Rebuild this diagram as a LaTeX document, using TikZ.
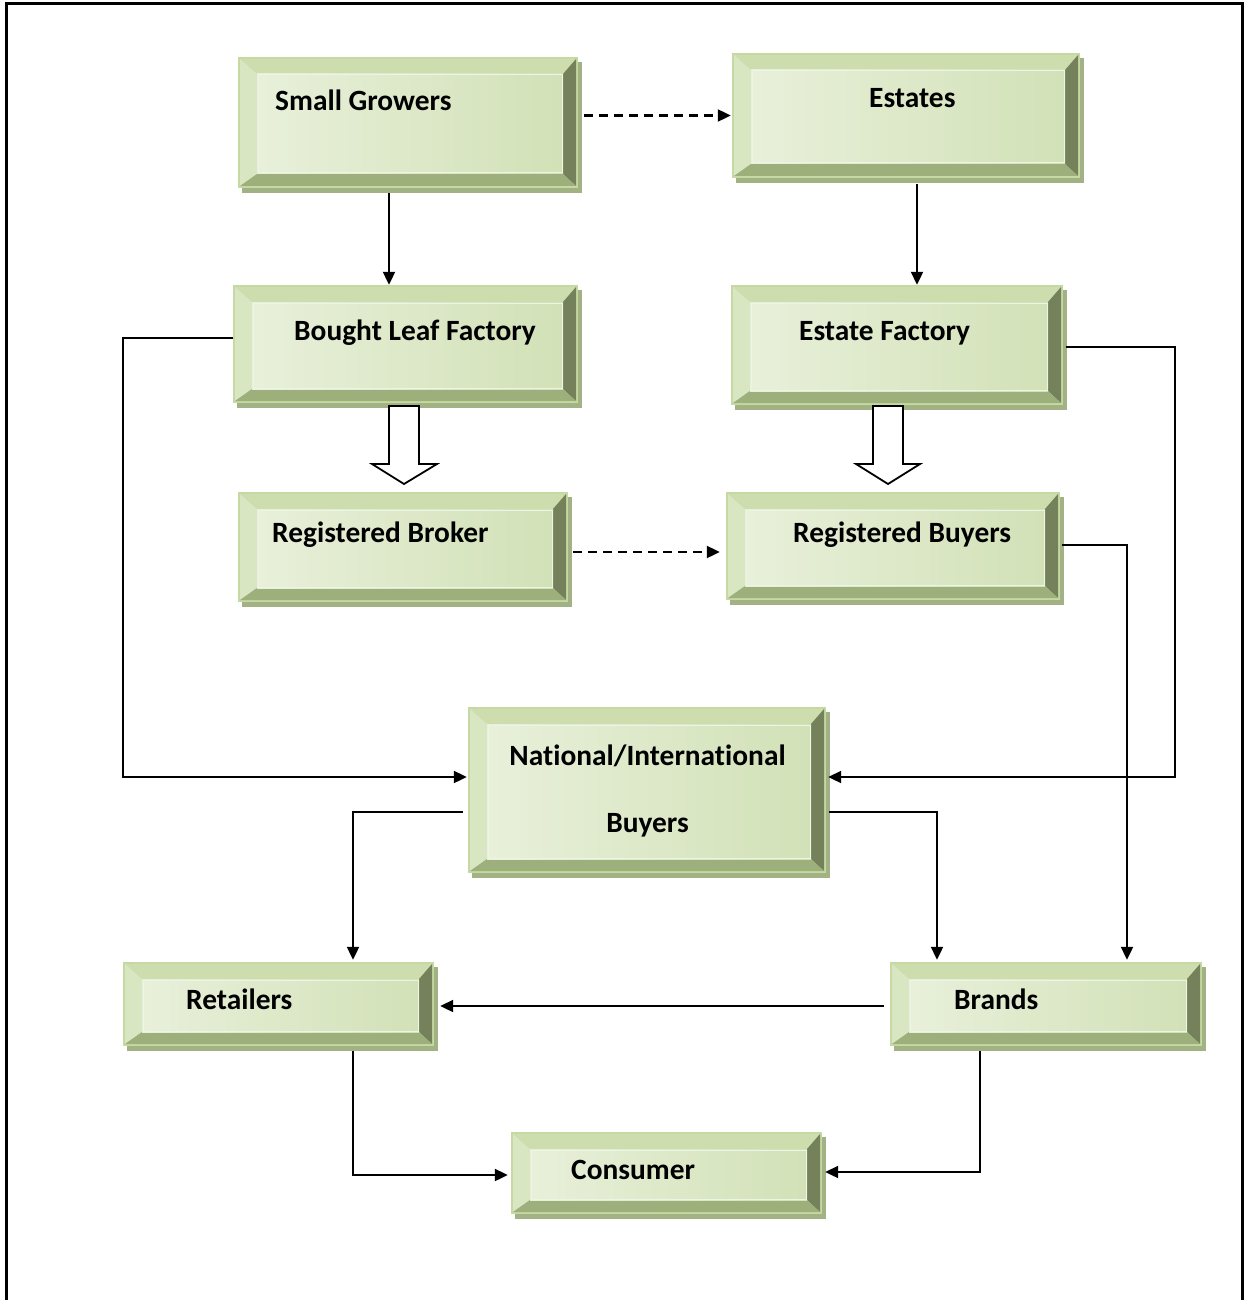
\documentclass[tikz,border=0pt]{standalone}
\usepackage{fontspec}
\setmainfont{Carlito}[Ligatures=NoCommon, Contextuals=NoAlternate]
\usetikzlibrary{arrows.meta,calc,fit}
\definecolor{shadowc}{HTML}{A2B284}
\definecolor{outlinec}{HTML}{C6D9A2}
\definecolor{topc}{HTML}{CEDDAE}
\definecolor{leftc}{HTML}{D9E6C2}
\definecolor{rightc}{HTML}{74815A}
\definecolor{botc}{HTML}{9DB07C}
\definecolor{faceA}{HTML}{E8F0DA}
\definecolor{faceL}{HTML}{EEF4E5}
\definecolor{faceB}{HTML}{D2E1B7}
% name, x1, y1, x2, y2  (pixel coordinates, y downwards)
\newcommand\bevbox[5]{%
  \fill[shadowc] ({#2+4},{#3+5}) rectangle ({#4+4},{#5+5});
  \fill[outlinec] (#2,#3) rectangle (#4,#5);
  \fill[topc] ({#2+2},{#3+2}) -- ({#4-2},{#3+2}) -- ({#4-15},{#3+17}) -- ({#2+19},{#3+17}) -- cycle;
  \fill[leftc] ({#2+2},{#3+2}) -- ({#2+19},{#3+17}) -- ({#2+19},{#5-14}) -- ({#2+2},{#5-2}) -- cycle;
  \fill[rightc] ({#4-2},{#3+2}) -- ({#4-2},{#5-2}) -- ({#4-15},{#5-14}) -- ({#4-15},{#3+17}) -- cycle;
  \fill[botc] ({#2+2},{#5-2}) -- ({#4-2},{#5-2}) -- ({#4-15},{#5-14}) -- ({#2+19},{#5-14}) -- cycle;
  \shade[shading angle=60, left color=faceA, middle color=faceL, right color=faceB]
    ({#2+19},{#3+17}) rectangle ({#4-15},{#5-14});
  \draw[line width=1, faceL] ({#2+20},{#3+18}) rectangle ({#4-16},{#5-15});
  \node[fit={(#2,#3) (#4,#5)}, inner sep=0pt] (#1) {};
}
\tikzset{
  lbl/.style={inner sep=0pt, font=\fontsize{29.4}{35}\selectfont\bfseries, text=black},
  conn/.style={line width=2.1, -{Triangle[length=13pt,width=12pt]}},
  dconn/.style={conn, dash pattern=on 9pt off 6pt},
  hollow/.style={line width=1.8, fill=white, draw=black, line join=miter}
}
\begin{document}
\begin{tikzpicture}[x=1pt, y=-1pt]
\useasboundingbox (0,0) rectangle (1250,1300);
\draw[line width=3] (6,1300) -- (6,4) -- (1242,4) -- (1242,1300);

% boxes
\bevbox{sg}{238}{57}{578}{188}
\bevbox{est}{732}{53}{1080}{178}
\bevbox{blf}{233}{285}{578}{403}
\bevbox{ef}{731}{285}{1063}{405}
\bevbox{rbro}{238}{492}{568}{602}
\bevbox{rbuy}{726}{492}{1060}{600}
\bevbox{nat}{468}{707}{826}{873}
\bevbox{ret}{123}{962}{434}{1046}
\bevbox{br}{890}{962}{1202}{1046}
\bevbox{con}{511}{1132}{822}{1214}

% labels
\node[lbl, anchor=base west] (sg-t) at (275,111) {Small Growers};
\node[lbl, anchor=base west] (est-t) at (869,108) {Estates};
\node[lbl, anchor=base west] (blf-t) at (294,340) {Bought Leaf Factory};
\node[lbl, anchor=base west] (ef-t) at (799,340) {Estate Factory};
\node[lbl, anchor=base west] (rbro-t) at (272,542) {Registered Broker};
\node[lbl, anchor=base west] (rbuy-t) at (793,542) {Registered Buyers};
\node[lbl, anchor=base] (nat-t1) at (647.5,765) {Nat\kern0pt ional/Internat\kern0pt ional};
\node[lbl, anchor=base] (nat-t2) at (647.5,832) {Buyers};
\node[lbl, anchor=base west] (ret-t) at (186,1009) {Retailers};
\node[lbl, anchor=base west] (br-t) at (954,1009) {Brands};
\node[lbl, anchor=base west] (con-t) at (571,1179) {Consumer};

% connectors
\draw[conn] ([xshift=-19pt,yshift=-5pt]sg.south) -- ([xshift=-19pt]sg.south |- blf.north);
\draw[dconn] ([xshift=6pt]sg.east |- est.west) -- ([xshift=-1pt]est.west);
\draw[conn] ([xshift=11pt,yshift=-6pt]est.south) -- ([xshift=11pt]est.south |- ef.north);
\draw[dconn] ([xshift=5pt,yshift=-5pt]rbro.east) -- ([xshift=-6pt,yshift=-6pt]rbuy.west);

\draw[conn] ([yshift=6pt]blf.west) -- ([yshift=6pt]blf.west -| ret.west)
  -- ([yshift=13pt]nat.west -| ret.west) -- ([yshift=13pt,xshift=-1pt]nat.west);
\draw[conn] ([yshift=-2pt,xshift=3pt]ef.east) -- ++(109,0) |- ([yshift=13pt,xshift=2pt]nat.east);
\draw[conn] ([yshift=1pt,xshift=2pt]rbuy.east) -| ([xshift=81pt,yshift=2pt]br.north);
\draw[conn] ([yshift=-22pt,xshift=-5pt]nat.west) -| ([xshift=74.5pt,yshift=2pt]ret.north);
\draw[conn] ([yshift=-22pt,xshift=3pt]nat.east) -| ([xshift=-109pt,yshift=2pt]br.north);
\draw[conn] ([xshift=-6pt,yshift=-2pt]br.west) -- ([xshift=6pt,yshift=-2pt]ret.east);
\draw[conn] ([xshift=74.5pt,yshift=-5pt]ret.south) |- ([yshift=-2pt,xshift=-3pt]con.west);
\draw[conn] ([xshift=-66pt,yshift=-5pt]br.south) |- ([xshift=3pt,yshift=1pt]con.east);

% hollow block arrows
\draw[hollow] (389,406) -- (419,406) -- (419,464) -- (437,464) -- (404,484) -- (372,464) -- (389,464) -- cycle;
\draw[hollow] (873,406) -- (903,406) -- (903,464) -- (920,464) -- (888,484) -- (856,464) -- (873,464) -- cycle;
\end{tikzpicture}
\end{document}
